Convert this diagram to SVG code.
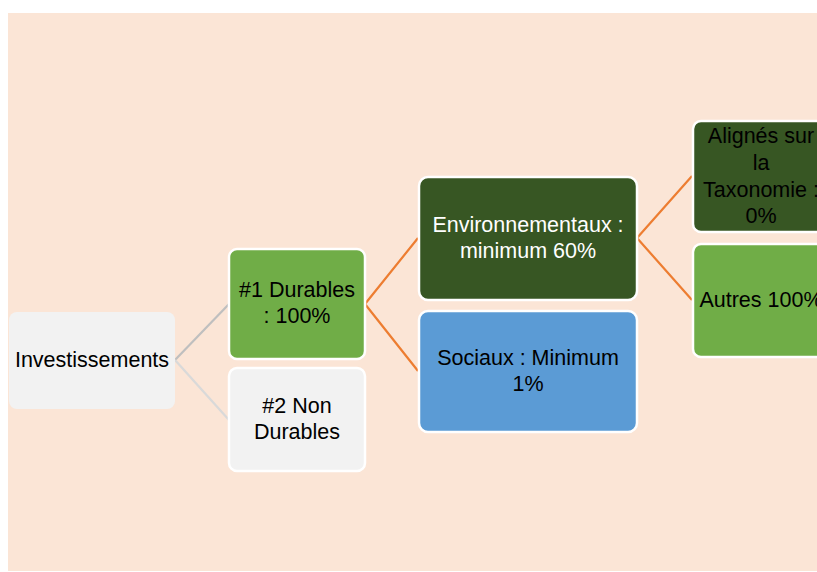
<svg xmlns="http://www.w3.org/2000/svg" width="817" height="572" viewBox="0 0 817 572">
<style>
text{font-family:"Liberation Sans",Arial,sans-serif;font-size:21.5px;text-anchor:middle;fill:#000}
.box{stroke:#fff;stroke-width:2.5}
.w{fill:#fff}
.c{fill:none;stroke-width:2.2}
</style>
<rect x="8" y="13" width="809" height="558" fill="#FBE5D6"/>
<g id="connectors">
<path class="c" d="M175 360 L229 304" stroke="#BFBFBF"/>
<path class="c" d="M175 360 L229 420" stroke="#D9D9D9"/>
<path class="c" d="M365 304 L418 238 M365 304 L418 371" stroke="#ED7D31"/>
<path class="c" d="M637 238 L692 176 M637 238 L692 300" stroke="#ED7D31"/>
</g>
<g id="investissements">
<rect x="9" y="312" width="166" height="97" rx="8" fill="#F2F2F2"/>
<text x="92" y="367">Investissements</text>
</g>
<g id="durables">
<rect class="box" x="229" y="249" width="136" height="110" rx="8" fill="#70AD47"/>
<text x="297" y="297">#1 Durables</text>
<text x="297" y="323">: 100%</text>
</g>
<g id="non-durables">
<rect class="box" x="229" y="368" width="136" height="103" rx="8" fill="#F2F2F2"/>
<text x="297" y="413">#2 Non</text>
<text x="297" y="439">Durables</text>
</g>
<g id="environnementaux">
<rect class="box" x="419" y="177" width="218" height="123" rx="9" fill="#375623"/>
<text class="w" x="528" y="232">Environnementaux :</text>
<text class="w" x="528" y="258">minimum 60%</text>
</g>
<g id="sociaux">
<rect class="box" x="419" y="311" width="218" height="121" rx="9" fill="#5B9BD5"/>
<text x="528" y="365">Sociaux : Minimum</text>
<text x="528" y="391">1%</text>
</g>
<g id="alignes">
<rect class="box" x="693" y="121" width="136" height="111" rx="8" fill="#375623"/>
<text x="761" y="143">Alignés sur</text>
<text x="761" y="170">la</text>
<text x="761" y="197">Taxonomie :</text>
<text x="761" y="223">0%</text>
</g>
<g id="autres">
<rect class="box" x="693" y="244" width="136" height="113" rx="8" fill="#70AD47"/>
<text x="761" y="307">Autres 100%</text>
</g>
</svg>
